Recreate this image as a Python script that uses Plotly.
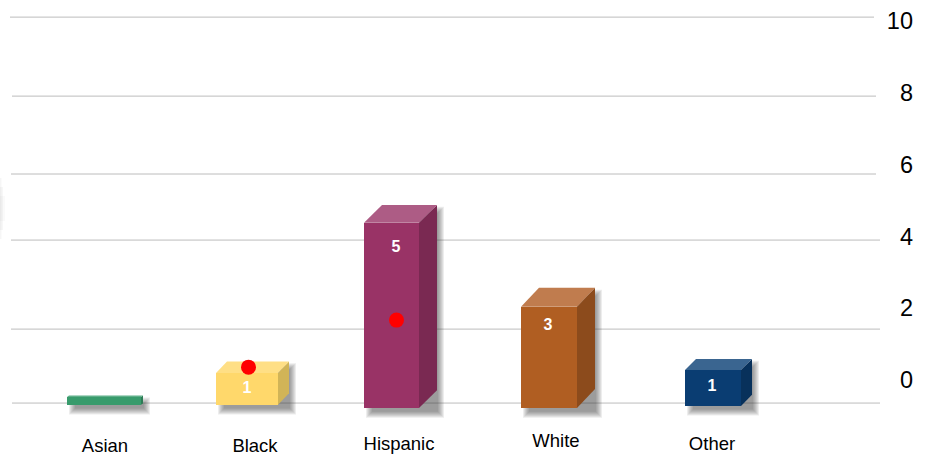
import plotly.graph_objects as go

# --- data ---
categories = ["Asian", "Black", "Hispanic", "White", "Other"]
counts = ["", "1", "5", "3", "1"]
bar_tops = [-0.50, 0.17, 4.35, 2.01, 0.25]
bar_bottoms = [-0.72, -0.72, -0.81, -0.81, -0.75]
marker_values = [0.33, 1.64]
marker_categories = ["Black", "Hispanic"]
grid_values = [-0.67, 1.39, 3.87, 5.71, 7.88, 10.08]
tick_values = [0, 2, 4, 6, 8, 10]

# --- layout geometry (x in pixels of the picture) ---
bar_left = [67, 216, 364, 521, 685]
bar_right = [141, 278, 419, 577, 741]
depth_x = [2, 11, 18, 18, 11]
depth_y = [0.04, 0.32, 0.50, 0.53, 0.31]
label_x = [105, 255, 399, 556, 712]
label_y = [-1.91, -1.91, -1.85, -1.77, -1.85]
count_x = [None, 247, 396, 548, 712]
count_y = [None, -0.29, 3.65, 1.49, -0.23]
marker_x = [248.5, 396.5]
grid_x0 = [12, 11, 11, 11, 12, 10]
grid_x1 = [880, 880, 880, 876, 876, 874]

front = ["#389B6C", "#FFD86B", "#993366", "#B05E22", "#0A3D72"]
side = ["#2D7C56", "#D1B457", "#7A2952", "#8C4B1C", "#08315B"]
top = ["#5FAF89", "#FFDF85", "#AD5C85", "#C07C4E", "#3A6590"]
FONT = "Liberation Sans"
UNIT = 35.9  # pixels per axis unit

fig = go.Figure()

# gridlines (lower axes)
gx, gy = [], []
for v, a, b in zip(grid_values, grid_x0, grid_x1):
    gx += [a, b, None]
    gy += [v, v, None]
fig.add_trace(go.Scatter(x=gx, y=gy, mode="lines", line=dict(color="#BCBCBC", width=1),
                         hoverinfo="skip", showlegend=False))

# faint arc on the left edge of the picture
for w, ext, alpha in [(1.5, 0.0, 0.035), (3, 0.25, 0.03), (5, 0.5, 0.02)]:
    fig.add_trace(go.Scatter(x=[0, w, w, 0, 0], y=[3.9 + ext, 3.9 + ext, 5.6 - ext, 5.6 - ext, 3.9 + ext],
                             mode="lines", fill="toself", fillcolor=f"rgba(0,0,0,{alpha})",
                             line=dict(width=0), hoverinfo="skip", showlegend=False))

# soft shadows (stacked translucent layers, lower axes); the upper-left part
# stays tucked behind the front face so nothing shows past the bevelled corner
for grow in [6, 5, 4, 3, 2, 1, 0]:
    for i in range(5):
        L = bar_left[i] + 8 - grow
        rf = bar_right[i]
        R = rf + depth_x[i] + 1 + grow
        T = bar_tops[i] + depth_y[i] - 0.22 + grow / UNIT
        B = bar_bottoms[i] - 0.10 - grow / UNIT
        tf = bar_tops[i] - 0.05
        fig.add_trace(go.Scatter(x=[L, R, R, rf, rf, L, L], y=[B, B, T, T, tf, tf, B], mode="lines",
                                 fill="toself", fillcolor="rgba(50,50,50,0.09)", line=dict(width=0),
                                 hoverinfo="skip", showlegend=False))

# front faces (upper axes, so they lie over the shadows)
fig.add_trace(go.Bar(
    x=[(a + b) / 2 for a, b in zip(bar_left, bar_right)],
    y=[t - b for t, b in zip(bar_tops, bar_bottoms)],
    base=bar_bottoms,
    width=[b - a for a, b in zip(bar_left, bar_right)],
    marker=dict(color=front, line=dict(width=0)),
    customdata=categories,
    hovertemplate="%{customdata}<extra></extra>",
    showlegend=False,
    xaxis="x2", yaxis="y2",
))

# side and top faces
for i in range(5):
    l, r, t, b, dx, dy = bar_left[i], bar_right[i], bar_tops[i], bar_bottoms[i], depth_x[i], depth_y[i]
    fig.add_trace(go.Scatter(x=[r, r + dx, r + dx, r, r], y=[b, b + dy, t + dy, t, b], mode="lines",
                             fill="toself", fillcolor=side[i], line=dict(width=0),
                             hoverinfo="skip", showlegend=False, xaxis="x2", yaxis="y2"))
    fig.add_trace(go.Scatter(x=[l, l + dx, r + dx, r, l], y=[t, t + dy, t + dy, t, t], mode="lines",
                             fill="toself", fillcolor=top[i], line=dict(width=0),
                             hoverinfo="skip", showlegend=False, xaxis="x2", yaxis="y2"))

# count labels
fig.add_trace(go.Scatter(x=count_x, y=count_y, text=counts, mode="text",
                         textfont=dict(family=FONT, size=16, color="white", weight="bold"),
                         hoverinfo="skip", showlegend=False, xaxis="x2", yaxis="y2"))

# red dots
fig.add_trace(go.Scatter(x=marker_x, y=marker_values, mode="markers", customdata=marker_categories,
                         marker=dict(color="#FF0000", size=15, line=dict(width=0)),
                         hovertemplate="%{customdata}<extra></extra>", showlegend=False,
                         xaxis="x2", yaxis="y2"))

# category labels
fig.add_trace(go.Scatter(x=label_x, y=label_y, text=categories, mode="text",
                         textfont=dict(family=FONT, size=18.5, color="#000000"),
                         hoverinfo="skip", showlegend=False, xaxis="x2", yaxis="y2"))

X_RANGE = [0, 916]
Y_RANGE = [-2.117, 10.557]
DOMAIN = [0, 916 / 928]
fig.update_layout(
    width=928, height=455, autosize=False,
    margin=dict(l=0, r=0, t=0, b=0),
    paper_bgcolor="white", plot_bgcolor="white",
    bargap=0,
    xaxis=dict(range=X_RANGE, domain=DOMAIN, visible=False),
    yaxis=dict(range=Y_RANGE, side="right", anchor="x", tickmode="array",
               tickvals=tick_values, ticklabelposition="inside", ticklabelshift=1,
               showgrid=False, zeroline=False,
               showline=False, ticks="", tickfont=dict(family=FONT, size=23.5, color="#000000")),
    xaxis2=dict(range=X_RANGE, domain=DOMAIN, visible=False, overlaying="x", anchor="y2"),
    yaxis2=dict(range=Y_RANGE, visible=False, overlaying="y", anchor="x2"),
)
fig.write_html("out.html", config=dict(displayModeBar=False),
               post_script="document.body.style.margin='0';")
